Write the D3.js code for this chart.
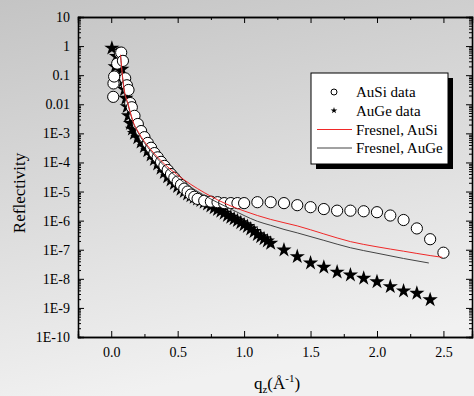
<!DOCTYPE html>
<html>
<head>
<meta charset="utf-8">
<script src="https://cdn.jsdelivr.net/npm/d3@7"></script>
<style>
  html, body { margin: 0; padding: 0; }
  svg { display: block; }
  .axis path, .axis line { stroke: #000; }
</style>
</head>
<body>
<div class="chart"></div>
<script>
// AuSi data (circles)
const auSiQ = [0.015, 0.017, 0.022, 0.045, 0.065, 0.075, 0.088, 0.105, 0.118, 0.13, 0.143,
  0.155, 0.175, 0.2, 0.225, 0.25, 0.275, 0.3, 0.325, 0.35, 0.375, 0.4, 0.425, 0.45, 0.475,
  0.5, 0.525, 0.55, 0.575, 0.6, 0.625, 0.65, 0.7, 0.75, 0.8, 0.85, 0.9, 0.95, 1.0,
  1.1, 1.2, 1.3, 1.4, 1.5, 1.6, 1.7, 1.8, 1.9, 2.0, 2.1, 2.2, 2.3, 2.4, 2.5];
const auSiR = [0.018, 0.052, 0.09, 0.25, 0.58, 0.6, 0.31, 0.078, 0.045, 0.031, 0.011,
  7.9e-3, 4.0e-3, 2.1e-3, 1.2e-3, 7.4e-4, 4.7e-4, 3.2e-4, 2.1e-4, 1.5e-4, 1.05e-4, 7.6e-5, 5.5e-5, 4.0e-5, 3.0e-5,
  2.2e-5, 1.7e-5, 1.26e-5, 1.0e-5, 7.9e-6, 6.6e-6, 5.6e-6, 4.8e-6, 4.5e-6, 4.3e-6, 4.0e-6, 4.0e-6, 4.0e-6, 4.0e-6,
  4.3e-6, 4.3e-6, 4.0e-6, 3.4e-6, 2.9e-6, 2.5e-6, 2.2e-6, 2.2e-6, 2.1e-6, 1.95e-6, 1.5e-6, 1.05e-6, 5.4e-7, 2.3e-7, 7.9e-8];

// AuGe data (stars)
const auGeQ = [0.005, 0.03, 0.04, 0.06, 0.08, 0.09, 0.1, 0.11, 0.12, 0.13, 0.145, 0.16, 0.175,
  0.2, 0.225, 0.25, 0.275, 0.3, 0.325, 0.35, 0.375, 0.4, 0.425, 0.45, 0.475, 0.5, 0.525, 0.55,
  0.575, 0.6, 0.625, 0.65, 0.675, 0.7, 0.725, 0.75, 0.775, 0.8, 0.825, 0.85, 0.875, 0.9, 0.925,
  0.95, 0.975, 1.0, 1.025, 1.05, 1.075, 1.1, 1.125, 1.15, 1.175, 1.2,
  1.3, 1.4, 1.5, 1.6, 1.7, 1.8, 1.9, 2.0, 2.1, 2.2, 2.3, 2.4];
const auGeR = [0.85, 0.195, 0.44, 0.28, 0.16, 0.063, 0.032, 0.016, 8.3e-3, 4.0e-3, 2.2e-3, 1.4e-3, 1.0e-3,
  7.1e-4, 5.0e-4, 3.5e-4, 2.5e-4, 1.8e-4, 1.26e-4, 8.9e-5, 6.3e-5, 4.5e-5, 3.2e-5, 2.5e-5, 1.9e-5, 1.5e-5, 1.2e-5, 1.0e-5,
  8.3e-6, 7.2e-6, 6.3e-6, 5.5e-6, 4.9e-6, 4.3e-6, 3.7e-6, 3.2e-6, 2.75e-6, 2.4e-6, 2.1e-6, 1.8e-6, 1.5e-6, 1.3e-6, 1.15e-6,
  1.0e-6, 8.5e-7, 7.2e-7, 6.3e-7, 5.2e-7, 4.2e-7, 3.3e-7, 2.8e-7, 2.4e-7, 2.0e-7, 1.66e-7,
  9.8e-8, 5.8e-8, 3.5e-8, 2.5e-8, 1.7e-8, 1.35e-8, 1.05e-8, 7.9e-9, 5.4e-9, 3.8e-9, 3.2e-9, 1.9e-9];

// Fresnel curves
const fresSiQ = [0.07, 0.085, 0.1, 0.125, 0.143, 0.17, 0.2, 0.25, 0.3, 0.35, 0.4, 0.45, 0.5,
  0.55, 0.6, 0.7, 0.8, 0.9, 1.0, 1.1, 1.2, 1.3, 1.4, 1.6, 1.8, 2.0, 2.2, 2.4, 2.49];
const fresSiR = [0.5, 0.09, 0.028, 0.011, 5.5e-3, 2.2e-3, 1.2e-3, 5.2e-4, 2.7e-4, 1.5e-4, 8.9e-5, 5.6e-5, 3.7e-5,
  2.5e-5, 1.75e-5, 9.2e-6, 5.2e-6, 3.2e-6, 2.15e-6, 1.5e-6, 1.1e-6, 8.5e-7, 6.6e-7, 3.5e-7, 1.9e-7, 1.26e-7, 8.9e-8, 6.3e-8, 5.5e-8];
const fresGeQ = [0.07, 0.085, 0.1, 0.125, 0.143, 0.17, 0.2, 0.25, 0.3, 0.35, 0.4, 0.5,
  0.6, 0.7, 0.8, 0.9, 1.0, 1.1, 1.2, 1.3, 1.4, 1.6, 1.8, 2.0, 2.2, 2.39];
const fresGeR = [0.5, 0.085, 0.025, 0.01, 5.0e-3, 2.0e-3, 1.1e-3, 4.7e-4, 2.4e-4, 1.3e-4, 7.6e-5, 3.0e-5,
  1.4e-5, 7.4e-6, 4.2e-6, 2.5e-6, 1.5e-6, 9.5e-7, 6.9e-7, 5.0e-7, 3.8e-7, 2.1e-7, 1.17e-7, 7.6e-8, 5.0e-8, 3.5e-8];

const xTicks = [0, 0.5, 1.0, 1.5, 2.0, 2.5];
const xMinorTicks = [0.25, 0.75, 1.25, 1.75, 2.25];
const yTicks = [10, 1, 0.1, 0.01, 1e-3, 1e-4, 1e-5, 1e-6, 1e-7, 1e-8, 1e-9, 1e-10];
const yTickLabels = ['10', '1', '0.1', '0.01', '1E-3', '1E-4', '1E-5', '1E-6', '1E-7', '1E-8', '1E-9', '1E-10'];
const legendLabels = ['AuSi data', 'AuGe data', 'Fresnel, AuSi', 'Fresnel, AuGe'];

const font = 'Liberation Serif, Times New Roman, serif';
const width = 474;
const height = 396;
const margin = { top: 17, right: 2, bottom: 59, left: 78 };
const innerWidth = width - margin.left - margin.right;
const innerHeight = height - margin.top - margin.bottom;

const svg = d3.select('.chart')
  .append('svg')
  .attr('width', width)
  .attr('height', height)
  .attr('font-family', font);

const grad = svg.append('defs').append('linearGradient')
  .attr('id', 'bg')
  .attr('x1', 0).attr('y1', 0).attr('x2', 0.25).attr('y2', 1);
grad.append('stop').attr('offset', '0%').attr('stop-color', '#c4c4c4');
grad.append('stop').attr('offset', '100%').attr('stop-color', '#f1f1f1');

svg.append('rect')
  .attr('width', width)
  .attr('height', height)
  .attr('fill', 'url(#bg)');

const g = svg.append('g')
  .attr('transform', 'translate(' + margin.left + ',' + margin.top + ')');

const x = d3.scaleLinear().domain([-0.25, 2.715]).range([0, innerWidth]);
const y = d3.scaleLog().domain([1e-10, 10]).range([innerHeight, 0]);

// minor log ticks
const yMinor = [];
yTicks.slice(1).forEach(d => {
  for (let k = 2; k <= 9; k++) yMinor.push(d * k);
});

// tick-only axis: no labels
function bare(axis, sel) {
  sel.call(axis.tickFormat(''));
  sel.selectAll('text').remove();
}

// axes: ticks point inward on all four sides
g.append('g')
  .attr('class', 'axis')
  .attr('transform', 'translate(0,' + innerHeight + ')')
  .call(d3.axisBottom(x).tickValues(xTicks).tickSize(-6).tickPadding(10).tickFormat(d3.format('.1f')))
  .attr('font-size', 14)
  .attr('font-family', font);
bare(d3.axisBottom(x).tickValues(xMinorTicks).tickSize(-3),
  g.append('g').attr('class', 'axis').attr('transform', 'translate(0,' + innerHeight + ')'));
bare(d3.axisTop(x).tickValues(xTicks).tickSize(-6), g.append('g').attr('class', 'axis'));
bare(d3.axisTop(x).tickValues(xMinorTicks).tickSize(-3), g.append('g').attr('class', 'axis'));

g.append('g')
  .attr('class', 'axis')
  .call(d3.axisLeft(y).tickValues(yTicks).tickSize(-6).tickPadding(8)
    .tickFormat((d, i) => yTickLabels[i]))
  .attr('font-size', 14)
  .attr('font-family', font);
bare(d3.axisLeft(y).tickValues(yMinor).tickSize(-3), g.append('g').attr('class', 'axis'));
bare(d3.axisRight(y).tickValues(yTicks).tickSize(-6),
  g.append('g').attr('class', 'axis').attr('transform', 'translate(' + innerWidth + ',0)'));
bare(d3.axisRight(y).tickValues(yMinor).tickSize(-3),
  g.append('g').attr('class', 'axis').attr('transform', 'translate(' + innerWidth + ',0)'));

g.selectAll('.axis .domain').attr('stroke-width', 1.3);

const circleData = auSiQ.map((q, i) => ({ q: q, r: auSiR[i] }));
const starData = auGeQ.map((q, i) => ({ q: q, r: auGeR[i] }));
const fresSi = fresSiQ.map((q, i) => ({ q: q, r: fresSiR[i] }));
const fresGe = fresGeQ.map((q, i) => ({ q: q, r: fresGeR[i] }));

const star = d3.symbol().type(d3.symbolStar).size(72);

g.selectAll('.star')
  .data(starData)
  .enter()
  .append('path')
  .attr('class', 'star')
  .attr('d', star)
  .attr('transform', d => 'translate(' + x(d.q) + ',' + y(d.r) + ')')
  .attr('fill', '#000');

g.selectAll('.dot')
  .data(circleData)
  .enter()
  .append('circle')
  .attr('class', 'dot')
  .attr('cx', d => x(d.q))
  .attr('cy', d => y(d.r))
  .attr('r', 5.6)
  .attr('fill', '#fff')
  .attr('stroke', '#000')
  .attr('stroke-width', 1);

const line = d3.line()
  .x(d => x(d.q))
  .y(d => y(d.r))
  .curve(d3.curveMonotoneX);

g.append('path')
  .datum(fresGe)
  .attr('d', line)
  .attr('fill', 'none')
  .attr('stroke', '#444')
  .attr('stroke-width', 1);

g.append('path')
  .datum(fresSi)
  .attr('d', line)
  .attr('fill', 'none')
  .attr('stroke', '#f02828')
  .attr('stroke-width', 1);

// legend
const lg = svg.append('g').attr('transform', 'translate(311,73)');
lg.append('rect')
  .attr('x', 5).attr('y', 5)
  .attr('width', 137).attr('height', 91)
  .attr('fill', '#000');
lg.append('rect')
  .attr('width', 137).attr('height', 91)
  .attr('fill', '#fff')
  .attr('stroke', '#000')
  .attr('stroke-width', 1);

const rowY = [19, 37.5, 56.5, 75];
lg.append('circle')
  .attr('cx', 23).attr('cy', rowY[0]).attr('r', 3)
  .attr('fill', '#fff').attr('stroke', '#000');
lg.append('path')
  .attr('d', d3.symbol().type(d3.symbolStar).size(14))
  .attr('transform', 'translate(23,' + rowY[1] + ')')
  .attr('fill', '#000');
lg.append('line')
  .attr('x1', 6).attr('x2', 41).attr('y1', rowY[2]).attr('y2', rowY[2])
  .attr('stroke', '#f02828');
lg.append('line')
  .attr('x1', 6).attr('x2', 41).attr('y1', rowY[3]).attr('y2', rowY[3])
  .attr('stroke', '#444');

lg.selectAll('.lgtext')
  .data(legendLabels)
  .enter()
  .append('text')
  .attr('class', 'lgtext')
  .attr('x', 45)
  .attr('y', (d, i) => rowY[i] + 5)
  .attr('font-size', 15)
  .attr('fill', '#000')
  .text(d => d);

// axis titles
svg.append('text')
  .attr('transform', 'translate(25,193) rotate(-90)')
  .attr('text-anchor', 'middle')
  .attr('font-size', 17)
  .attr('fill', '#000')
  .text('Reflectivity');

const xt = svg.append('text')
  .attr('x', 277)
  .attr('y', 389)
  .attr('text-anchor', 'middle')
  .attr('font-size', 17)
  .attr('fill', '#000');
xt.append('tspan').text('q');
xt.append('tspan').attr('font-size', 11).attr('dy', 4).text('z');
xt.append('tspan').attr('dy', -4).text('(Å');
xt.append('tspan').attr('font-size', 11).attr('dy', -7).text('-1');
xt.append('tspan').attr('dy', 7).text(')');
</script>
</body>
</html>
